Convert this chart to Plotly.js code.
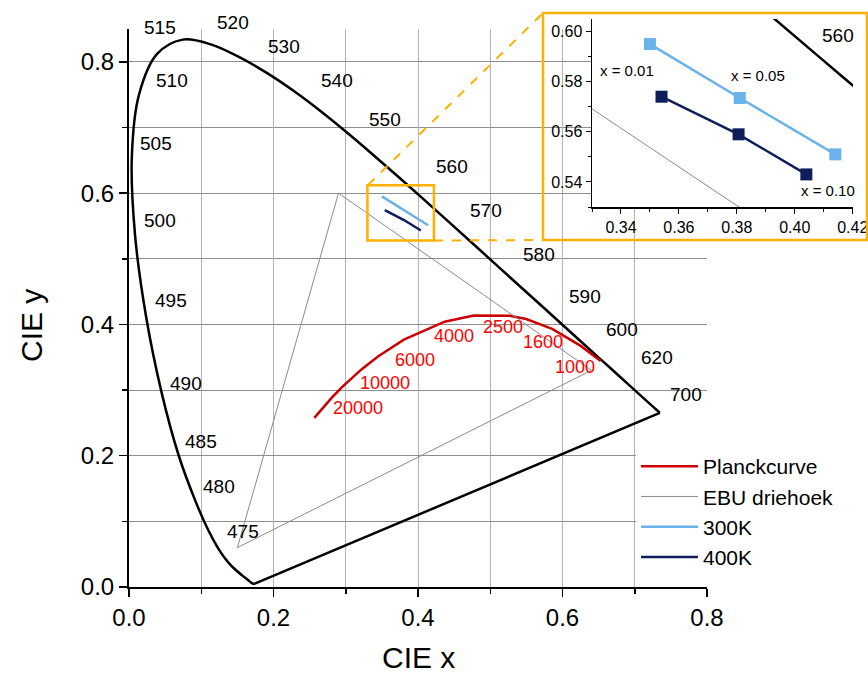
<!DOCTYPE html>
<html><head><meta charset="utf-8">
<script src="https://cdn.plot.ly/plotly-3.0.1.min.js"></script>
<style>html,body{margin:0;padding:0;background:#fff}#chart{width:868px;height:677px}</style>
</head><body><div id="chart"></div>
<script>
// ---- Spectral locus (CIE 1931), wavelength in nm ----
const wavelengths = [380,400,420,430,440,450,460,465,470,475,480,485,490,495,500,505,510,515,520,525,530,535,540,545,550,555,560,565,570,575,580,585,590,595,600,605,610,620,630,640,650,660,680,700];
const locusX = [0.1741,0.1733,0.1714,0.1689,0.1644,0.1566,0.1440,0.1355,0.1241,0.1096,0.0913,0.0687,0.0454,0.0235,0.0082,0.0039,0.0139,0.0389,0.0743,0.1142,0.1547,0.1929,0.2296,0.2658,0.3016,0.3373,0.3731,0.4087,0.4441,0.4788,0.5125,0.5448,0.5752,0.6029,0.6270,0.6482,0.6658,0.6915,0.7079,0.7190,0.7260,0.7300,0.7334,0.7347];
const locusY = [0.0050,0.0048,0.0051,0.0069,0.0109,0.0177,0.0297,0.0399,0.0578,0.0868,0.1327,0.2007,0.2950,0.4127,0.5384,0.6548,0.7502,0.8120,0.8338,0.8262,0.8059,0.7816,0.7543,0.7243,0.6923,0.6589,0.6245,0.5896,0.5547,0.5202,0.4866,0.4544,0.4242,0.3965,0.3725,0.3514,0.3340,0.3083,0.2920,0.2809,0.2740,0.2700,0.2666,0.2653];
// line of purples
const purpleX = [0.7347, 0.1741];
const purpleY = [0.2653, 0.0050];

// wavelength labels
const wlLabels = ['515','520','530','510','540','505','550','560','570','580','590','600','620','700','500','495','490','485','480','475'];
const wlLabelX = [0.043,0.144,0.215,0.059,0.2875,0.038,0.354,0.4475,0.4936,0.5679,0.6311,0.6819,0.7303,0.7709,0.043,0.0577,0.0789,0.0997,0.125,0.1582];
const wlLabelY = [0.853,0.860,0.823,0.7715,0.771,0.676,0.7126,0.6405,0.573,0.507,0.4424,0.3916,0.3495,0.2926,0.5582,0.4363,0.3104,0.2214,0.1529,0.0844];

// ---- Planck curve ----
const planckT = [20000,15000,10000,8000,6000,5000,4000,3000,2500,2000,1800,1600,1500,1200,1000];
const planckX = [0.2565,0.2637,0.2807,0.2952,0.3221,0.3451,0.3805,0.4369,0.4770,0.5267,0.5497,0.5729,0.5857,0.6252,0.6528];
const planckY = [0.2577,0.2673,0.2884,0.3048,0.3318,0.3516,0.3768,0.4041,0.4137,0.4133,0.4083,0.3985,0.3931,0.3673,0.3444];
const planckLabels = ['20000','10000','6000','4000','2500','1600','1000'];
const planckLabelX = [0.3174,0.3543,0.3958,0.4498,0.5180,0.5726,0.6173];
const planckLabelY = [0.2723,0.3104,0.3459,0.3825,0.3967,0.3729,0.3357];

// ---- EBU triangle ----
const ebuX = [0.64,0.29,0.15,0.64];
const ebuY = [0.33,0.60,0.06,0.33];

// ---- 300K and 400K series ----
const k300X = [0.350,0.381,0.414];
const k300Y = [0.595,0.5735,0.551];
const k400X = [0.354,0.3806,0.404];
const k400Y = [0.574,0.559,0.543];
const insetLabels = ['x = 0.01','x = 0.05','x = 0.10'];
const insetLabelX = [0.342,0.3874,0.4116];
const insetLabelY = [0.5843,0.5823,0.5365];

// ---- zoom window ----
const zoomX = [0.33,0.422];
const zoomY = [0.528,0.612];

// ---- axis ranges ----
const xRange = [0, 0.8], yRange = [0, 0.85];
const x2Range = [0.33, 0.4201], y2Range = [0.53, 0.605];

// ---- geometry (pixels) ----
const W = 868, H = 677;
const px = v => v / W, py = v => 1 - v / H;
const FONT = 'Liberation Sans, Arial, sans-serif';
const ORANGE = '#FFB000';
const C300 = '#6AB2EA', C400 = '#0E1E5B';

const traces = [
  {x: locusX, y: locusY, mode:'lines', line:{color:'#000', width:2.5, shape:'spline', smoothing:1}, showlegend:false, hoverinfo:'skip', xaxis:'x', yaxis:'y'},
  {x: purpleX, y: purpleY, mode:'lines', line:{color:'#000', width:2.5}, showlegend:false, hoverinfo:'skip'},
  {x: planckX, y: planckY, mode:'lines', name:'Planckcurve', line:{color:'#CC0000', width:2.5}},
  {x: ebuX, y: ebuY, mode:'lines', name:'EBU driehoek', line:{color:'#8a8a8a', width:1}},
  {x: k300X, y: k300Y, mode:'lines', name:'300K', line:{color:C300, width:2.5}},
  {x: k400X, y: k400Y, mode:'lines', name:'400K', line:{color:C400, width:2.5}},
  // inset
  {x: locusX, y: locusY, mode:'lines', line:{color:'#000', width:2.5, shape:'spline', smoothing:1}, showlegend:false, xaxis:'x2', yaxis:'y2'},
  {x: ebuX, y: ebuY, mode:'lines', line:{color:'#8a8a8a', width:1}, showlegend:false, xaxis:'x2', yaxis:'y2'},
  {x: k300X, y: k300Y, mode:'lines+markers', line:{color:C300, width:2.5}, marker:{symbol:'square', size:12, color:C300}, showlegend:false, xaxis:'x2', yaxis:'y2'},
  {x: k400X, y: k400Y, mode:'lines+markers', line:{color:C400, width:2.5}, marker:{symbol:'square', size:12, color:C400}, showlegend:false, xaxis:'x2', yaxis:'y2'}
];

// data -> domain fraction of the main axes (labels may sit above the axis top)
const dx = v => (v - xRange[0]) / (xRange[1] - xRange[0]);
const dy = v => (v - yRange[0]) / (yRange[1] - yRange[0]);

const C = {xanchor:'center', yanchor:'middle', showarrow:false};
const annotations = [];
wlLabels.forEach((t,i) => annotations.push(Object.assign({x: dx(wlLabelX[i]), y: dy(wlLabelY[i]), xref:'x domain', yref:'y domain', text:t, font:{size:19, color:'#000', family:FONT}}, C)));
planckLabels.forEach((t,i) => annotations.push(Object.assign({x: planckLabelX[i], y: planckLabelY[i], xref:'x', yref:'y', text:t, font:{size:18, color:'#FF0000', family:FONT}}, C)));
insetLabels.forEach((t,i) => annotations.push(Object.assign({x: insetLabelX[i], y: insetLabelY[i], xref:'x2', yref:'y2', text:t, font:{size:15, color:'#000', family:FONT}}, C)));
annotations.push(Object.assign({x: 0.4149, y: 0.5984, xref:'x2', yref:'y2', text:'560', font:{size:19, color:'#000', family:FONT}}, C));
// axis titles
annotations.push(Object.assign({x: px(418), y: py(657), xref:'paper', yref:'paper', text:'CIE x', font:{size:30, color:'#000', family:FONT}}, C));
annotations.push(Object.assign({x: px(32), y: py(326), xref:'paper', yref:'paper', text:'CIE y', textangle:-90, font:{size:30, color:'#000', family:FONT}}, C));

const shapes = [
  {type:'rect', xref:'x', yref:'y', x0:zoomX[0], x1:zoomX[1], y0:zoomY[0], y1:zoomY[1], line:{color:ORANGE, width:2.5}, layer:'above'},
  {type:'rect', xref:'paper', yref:'paper', x0:px(543), x1:px(867), y0:py(240), y1:py(13), line:{color:ORANGE, width:2.5}, layer:'above'},
  {type:'line', xref:'paper', yref:'paper', x0:px(368), y0:py(185), x1:px(543), y1:py(13), line:{color:ORANGE, width:2, dash:'dash'}, layer:'above'},
  {type:'line', xref:'paper', yref:'paper', x0:px(434), y0:py(240.5), x1:px(543), y1:py(240), line:{color:ORANGE, width:2, dash:'dash'}, layer:'above'}
];

const axBase = {ticks:'outside', tickcolor:'#000', showline:true, linecolor:'#000', zeroline:false, automargin:false, fixedrange:true};

const layout = {
  width: W, height: H,
  margin:{l:0, r:0, t:0, b:0},
  paper_bgcolor:'#fff', plot_bgcolor:'#fff',
  font:{family:FONT, color:'#000'},
  showlegend:true,
  legend:{x:px(636), y:py(446), xanchor:'left', yanchor:'top', bgcolor:'#fff', borderwidth:0, font:{size:21, family:FONT}, tracegroupgap:0, itemwidth:57},
  xaxis: Object.assign({}, axBase, {domain:[px(129), px(707)], range:xRange, tick0:0, dtick:0.2, tickformat:'.1f', ticklen:8, tickwidth:1.5, linewidth:2,
    showgrid:true, gridcolor:'#b4b4b4', gridwidth:1, tickfont:{size:24},
    minor:{dtick:0.1, ticks:'outside', ticklen:5, tickwidth:1.5, tickcolor:'#000', showgrid:true, gridcolor:'#b4b4b4', gridwidth:1},
    anchor:'y'}),
  yaxis: Object.assign({}, axBase, {domain:[1-587/H, 1-29/H], range:yRange, tick0:0, dtick:0.2, tickformat:'.1f', ticklen:8, tickwidth:1.5, linewidth:2,
    showgrid:true, gridcolor:'#8e8e8e', gridwidth:1, tickfont:{size:24},
    minor:{dtick:0.1, ticks:'outside', ticklen:5, tickwidth:1.5, tickcolor:'#000', showgrid:true, gridcolor:'#8e8e8e', gridwidth:1},
    anchor:'x'}),
  xaxis2: Object.assign({}, axBase, {domain:[px(592), px(853)], range:x2Range, tick0:0.34, dtick:0.02, tickformat:'.2f', ticklen:5, tickwidth:1, linewidth:1.5,
    showgrid:false, tickfont:{size:16}, ticklabeloverflow:'allow', minor:{dtick:0.01, ticks:'outside', ticklen:3, tickwidth:1, tickcolor:'#000', showgrid:false}, anchor:'y2'}),
  yaxis2: Object.assign({}, axBase, {domain:[py(207), py(19)], range:y2Range, tick0:0.54, dtick:0.02, tickformat:'.2f', ticklen:5, tickwidth:1, linewidth:1.5,
    showgrid:false, tickfont:{size:16}, minor:{dtick:0.01, ticks:'outside', ticklen:3, tickwidth:1, tickcolor:'#000', showgrid:false}, anchor:'x2'}),
  annotations, shapes
};

Plotly.newPlot('chart', traces, layout, {displayModeBar:false, staticPlot:true});
</script></body></html>
